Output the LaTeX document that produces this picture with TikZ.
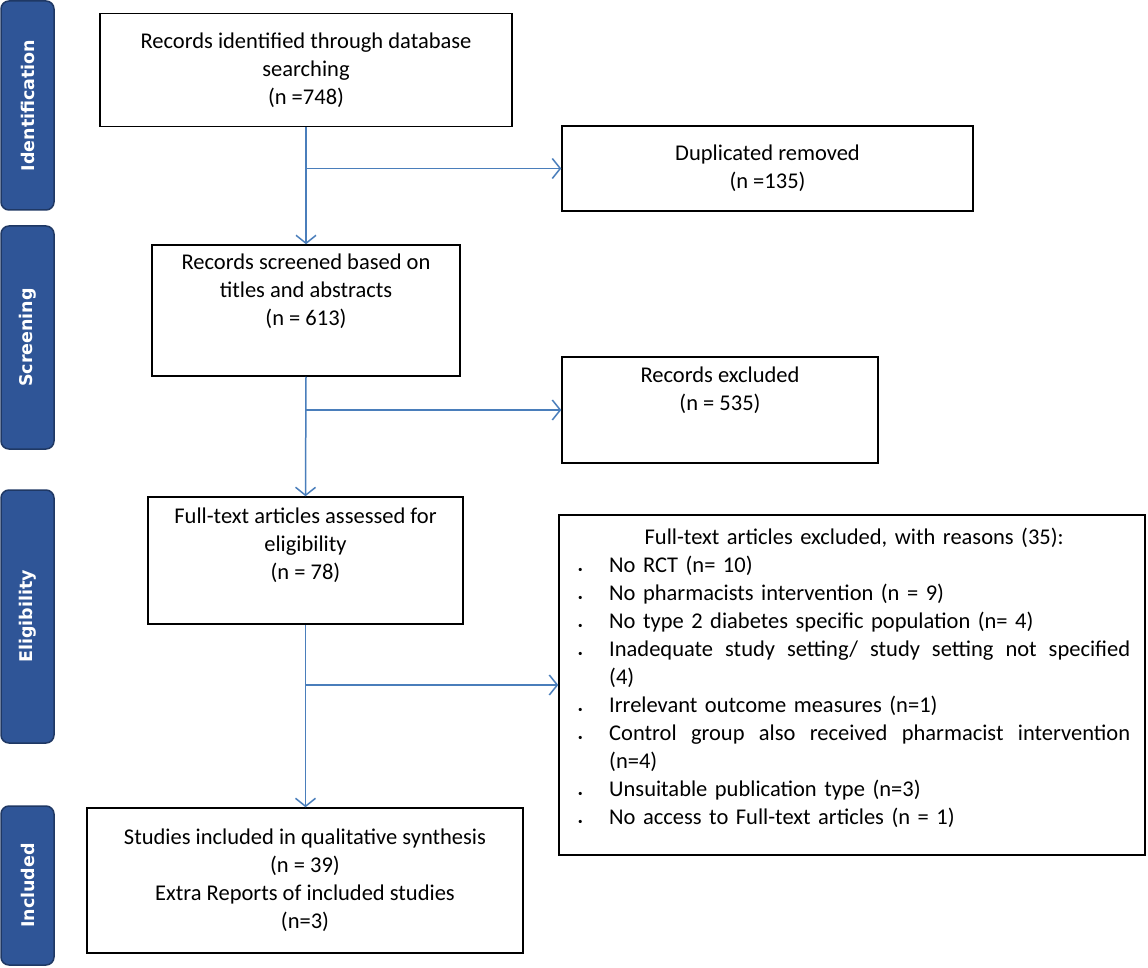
\documentclass[tikz,border=0pt]{standalone}
\usepackage{fontspec}
\setmainfont{Carlito}
\newfontfamily\barfont{DejaVu Sans}
\usetikzlibrary{arrows.meta}
\definecolor{barblue}{HTML}{2F5597}
\definecolor{bardark}{HTML}{1F3864}
\definecolor{arr}{HTML}{4A7EBB}
\tikzset{
 box/.style={draw=black,line width=1.5pt,align=center,font=\fontsize{22.5}{28}\selectfont,inner sep=0pt},
 bar/.style={draw=bardark,fill=barblue,line width=1.5pt,rounded corners=8pt},
 bartext/.style={text=white,font=\barfont\bfseries\fontsize{17.5}{20}\selectfont,rotate=90},
 flow/.style={draw=arr,line width=1.5pt,-{Straight Barb[length=8pt,width=20pt]}},
}
\newcommand{\bul}{\hangindent=31pt\makebox[31pt][l]{\small\textbullet}}
\begin{document}
\begin{tikzpicture}[x=1pt,y=-1pt]
\useasboundingbox (0,0) rectangle (1148,968);
% side bars
\draw[bar] (1,1) rectangle (54,210) node[midway,bartext]{Identification};
\draw[bar] (1,226) rectangle (54,449) node[midway,bartext]{Screening};
\draw[bar] (1,490) rectangle (54,743) node[midway,bartext]{Eligibility};
\draw[bar] (1,806) rectangle (54,965) node[midway,bartext]{Included};
% boxes
\node[box,minimum width=412pt,minimum height=113pt] (b1) at (306,70) {Records identified through database\\searching\\(n =748)};
\node[box,minimum width=411pt,minimum height=85pt] (d1) at (767.5,168.5) {Duplicated removed\\(n =135)};
\node[box,minimum width=308pt,minimum height=131pt] (b2) at (306,310.5) {Records screened based on\\titles and abstracts\\(n = 613)\\[14pt]};
\node[box,minimum width=316pt,minimum height=106pt] (d2) at (720,410) {Records excluded\\(n = 535)\\[14pt]};
\node[box,minimum width=315pt,minimum height=127pt] (b3) at (305.5,560.5) {Full-text articles assessed for\\eligibility\\(n = 78)\\[6pt]};
\node[box,minimum width=436pt,minimum height=145pt] (b4) at (305,880.5) {Studies included in qualitative synthesis\\(n = 39)\\Extra Reports of included studies\\(n=3)};
\node[box,minimum width=586pt,minimum height=340pt] (d3) at (852,685) {};
\node[anchor=north west,inner sep=0pt,text width=552pt,font=\fontsize{22.5}{28}\selectfont] (reasons) at (578,528) {%
\centering Full-text articles excluded, with reasons (35):\par
\raggedright
\bul No RCT (n= 10)\par
\bul No pharmacists intervention (n = 9)\par
\bul No type 2 diabetes specific population (n= 4)\par
\bul Inadequate\hfill study\hfill setting/\hfill study\hfill setting\hfill not\hfill specified\par
\hspace*{31pt}(4)\par
\bul Irrelevant outcome measures (n=1)\par
\bul Control\hfill group\hfill also\hfill received\hfill pharmacist\hfill intervention\par
\hspace*{31pt}(n=4)\par
\bul Unsuitable publication type (n=3)\par
\bul No access to Full-text articles (n = 1)\par};
% connectors
\coordinate (j1) at (b1.south |- d1.west);
\coordinate (j2) at (b2.south |- d2.west);
\coordinate (j3) at (b3.south |- d3.west);
\draw[flow] (b1.south) -- (b2.north);
\draw[flow] (j1) -- (d1.west);
\draw[flow] (b2.south) -- (b3.north);
\draw[flow] (j2) -- (d2.west);
\draw[flow] (b3.south) -- (b3.south |- b4.north);
\draw[flow] (j3) -- (d3.west);
\end{tikzpicture}
\end{document}
